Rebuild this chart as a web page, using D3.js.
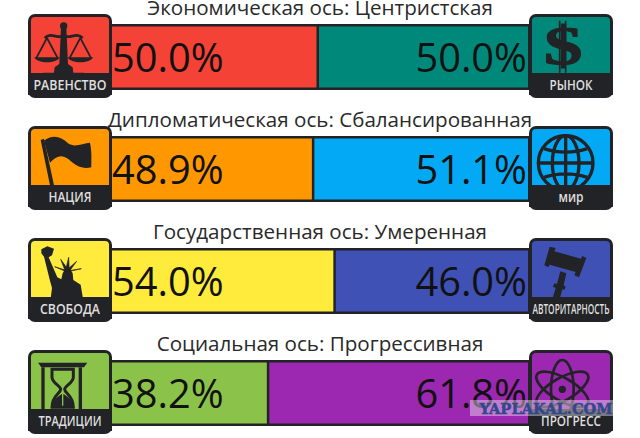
<!DOCTYPE html>
<html><head><meta charset="utf-8">
<script src="https://cdn.jsdelivr.net/npm/d3@7"></script>
<style>html,body{margin:0;background:#fff}svg{display:block}text{font-family:"Open Sans",sans-serif}</style>
</head><body><svg id="c" width="640" height="438"></svg>
<script>
const titles=["Экономическая ось: Центристская","Дипломатическая ось: Сбалансированная","Государственная ось: Умеренная","Социальная ось: Прогрессивная"];
const leftValues=[50.0,48.9,54.0,38.2];
const rightValues=[50.0,51.1,46.0,61.8];
const leftColors=["#f44336","#ff9800","#ffeb3b","#8bc34a"];
const rightColors=["#00897b","#03a9f4","#3f51b5","#9c27b0"];
const leftLabels=["РАВЕНСТВО","НАЦИЯ","СВОБОДА","ТРАДИЦИИ"];
const rightLabels=["РЫНОК","мир","АВТОРИТАРНОСТЬ","ПРОГРЕСС"];
const leftLabelLen=[73,43,60,63];
const rightLabelLen=[43,25,77,60];
const leftIcons=["scales","flag","liberty","hourglass"];
const rightIcons=["dollar","globe","gavel","atom"];
const rowTops=[14,126,238,350];
const dark="#222326";

const svg=d3.select("#c");
const x=d3.scaleLinear().domain([0,100]).range([107,528]);

const icons={
 scales(g){
  g.append("circle").attr("cx",107).attr("cy",36).attr("r",11);
  g.append("path").attr("d","M99,40L115,40L120,150L134,160L136,176L168,176V188H46V176L78,176L80,160L94,150Z");
  g.append("path").attr("d","M50,72C70,52 90,78 107,64C124,78 144,52 164,72").attr("fill","none").attr("stroke",dark).attr("stroke-width",8);
  [57,157].forEach(c=>{
   g.append("path").attr("d",`M${c},72L${c-32},132M${c},72L${c+32},132`).attr("fill","none").attr("stroke",dark).attr("stroke-width",5);
   g.append("path").attr("d",`M${c-38},130H${c+38}C${c+30},150 ${c-30},150 ${c-38},130Z`);
  });
 },
 flag(g){
  g.append("path").attr("d","M38,42L48,38L78,178L66,178Z");
  g.append("path").attr("d","M48,44C70,26 98,28 120,52C140,66 165,52 186,50C192,78 190,100 190,124C165,130 145,122 122,100C100,84 85,90 66,110Z");
 },
 liberty(g){
  g.append("path").attr("d","M40,34L58,25L78,32L72,52L62,58L68,72L88,118L100,124L104,106L112,92L126,92L134,106L136,126L158,140L165,182H68L72,150L66,128L52,72L48,56L40,46Z");
  const cx=118,cy=100;
  [[98,64],[122,58],[146,70],[80,86],[160,92]].forEach(t=>{
   g.append("path").attr("d",`M${cx-6},${cy}L${t[0]},${t[1]}L${cx+6},${cy}Z`).attr("stroke",dark).attr("stroke-width",2);
  });
 },
 hourglass(g){
  g.append("path").attr("d","M30,38H178L168,52H40Z");
  g.append("rect").attr("x",40).attr("y",52).attr("width",10).attr("height",128);
  g.append("rect").attr("x",152).attr("y",52).attr("width",10).attr("height",128);
  g.append("path").attr("d","M72,58H136V82C136,100 110,106 110,118C110,130 136,136 136,172H72C72,136 98,130 98,118C98,106 72,100 72,82Z").attr("fill","none").attr("stroke",dark).attr("stroke-width",9);
  g.append("path").attr("d","M102,132C88,140 74,150 74,172H102ZM106,132C120,140 134,150 134,172H106Z");
 },
 dollar(g){
  g.append("text").attr("transform","translate(103,150) scale(1.4,1)").attr("text-anchor","middle").attr("font-size",165).attr("font-weight",700).attr("stroke",dark).attr("stroke-width",3).style("font-family","'Liberation Serif',serif").text("$");
  g.append("path").attr("d","M92,20V176M110,20V176").attr("stroke",dark).attr("stroke-width",5).attr("fill","none");
 },
 globe(g){
  const s=g.append("g").attr("fill","none").attr("stroke",dark).attr("stroke-width",10);
  s.append("circle").attr("cx",110).attr("cy",111).attr("r",82);
  s.append("ellipse").attr("cx",110).attr("cy",111).attr("rx",40).attr("ry",82);
  s.append("path").attr("d","M110,29V193M28,111H192M45,68C85,82 135,82 175,68M45,154C85,140 135,140 175,154");
 },
 gavel(g){
  g.append("path").attr("d","M62,26L80,30L76,40L156,62L160,54L172,60L150,118L136,112L140,102L62,80L58,88L46,82Z");
  g.append("path").attr("d","M94,100L112,106L104,142L110,146L106,156L100,154L90,190H68L80,150L72,146L76,136L84,138Z");
 },
 atom(g){
  const s=g.append("g").attr("fill","none").attr("stroke",dark).attr("stroke-width",8).attr("transform","translate(100,118)");
  [30,-30,90].forEach(a=>s.append("ellipse").attr("rx",88).attr("ry",34).attr("transform",`rotate(${a})`));
  g.append("circle").attr("cx",100).attr("cy",118).attr("r",11);
 }
};

function badge(px,py,color,label,len,icon){
 const g=svg.append("g").attr("transform",`translate(${px},${py})`);
 g.append("rect").attr("x",0).attr("y",0).attr("width",84).attr("height",84).attr("rx",7).attr("fill",dark);
 g.append("path").attr("d","M3,59V7A4,4 0 0 1 7,3H77A4,4 0 0 1 81,7V59Z").attr("fill",color);
 const ic=g.append("g").attr("transform","scale(0.3333)").attr("fill",dark);
 icons[icon](ic);
 g.append("rect").attr("x",0).attr("y",59).attr("width",84).attr("height",22).attr("fill",dark);
 g.append("text").attr("x",42).attr("y",75.5).attr("text-anchor","middle").attr("font-size",14.5).attr("font-weight",600).attr("fill","#dedede").attr("textLength",len).attr("lengthAdjust","spacingAndGlyphs").text(label);
}

titles.forEach((t,i)=>{
 const top=rowTops[i], lx=x(leftValues[i]);
 svg.append("text").attr("x",320).attr("y",top+1).attr("text-anchor","middle").attr("font-size",20.6).attr("fill","#2a2a2a").text(t);
 svg.append("rect").attr("x",108).attr("y",top+10).attr("width",424).attr("height",66).attr("fill",dark);
 svg.append("rect").attr("x",x(0)).attr("y",top+12.5).attr("width",lx-x(0)-1).attr("height",61).attr("fill",leftColors[i]);
 svg.append("rect").attr("x",lx+1.5).attr("y",top+12.5).attr("width",x(100)-lx-1.5).attr("height",61).attr("fill",rightColors[i]);
 svg.append("text").attr("x",112).attr("y",top+57.5).attr("font-size",39.8).attr("fill","#111").text(leftValues[i].toFixed(1)+"%");
 svg.append("text").attr("x",527).attr("y",top+57.5).attr("text-anchor","end").attr("font-size",39.8).attr("fill","#111").text(rightValues[i].toFixed(1)+"%");
 badge(28,top,leftColors[i],leftLabels[i],leftLabelLen[i],leftIcons[i]);
 badge(529,top,rightColors[i],rightLabels[i],rightLabelLen[i],rightIcons[i]);
});

svg.append("rect").attr("x",470).attr("y",400).attr("width",143).attr("height",16).attr("fill","#fff").attr("opacity",0.4);
svg.append("text").attr("x",546).attr("y",413.5).attr("text-anchor","middle").attr("font-size",15).attr("font-weight",700).attr("fill","#34468f").attr("stroke","#34468f").attr("stroke-width",0.5).attr("textLength",133).attr("lengthAdjust","spacingAndGlyphs").style("font-family","'DejaVu Serif',serif").text("YAPLAKAL.COM");
</script></body></html>
